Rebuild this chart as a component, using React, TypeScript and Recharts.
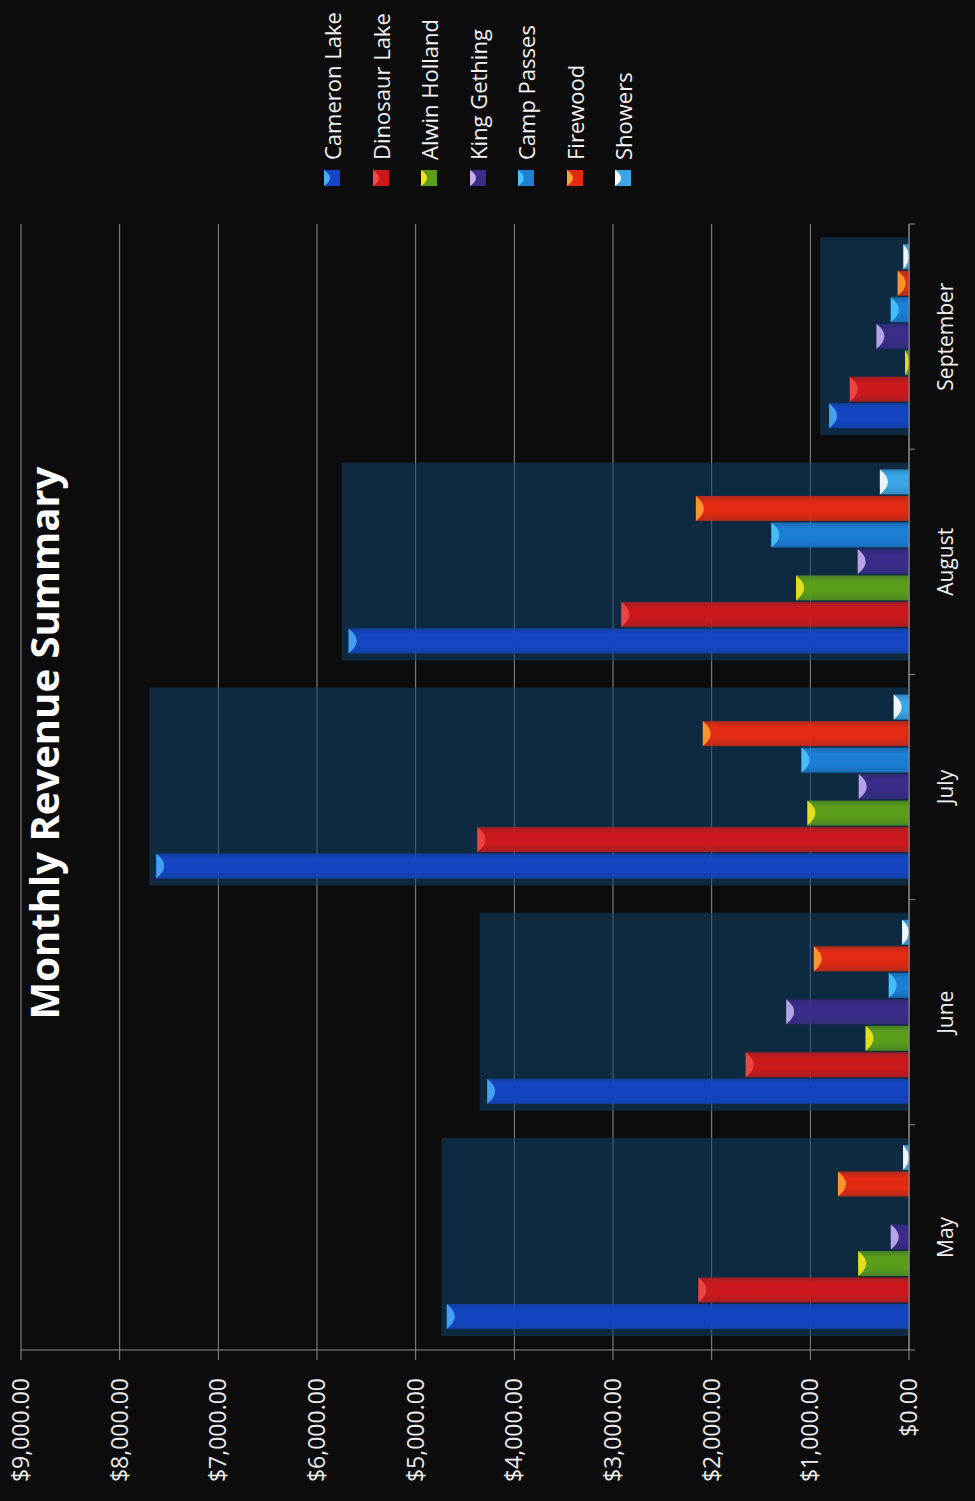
import React from "react";
import { BarChart, Bar, XAxis, YAxis, CartesianGrid, Legend } from "recharts";

// values (US$)
const months = ["May", "June", "July", "August", "September"];
const cameronLake = [4685, 4275, 7630, 5680, 810];
const dinosaurLake = [2135, 1655, 4375, 2915, 600];
const alwinHolland = [515, 440, 1030, 1145, 40];
const kingGething = [185, 1245, 510, 520, 330];
const campPasses = [0, 205, 1090, 1395, 185];
const firewood = [720, 965, 2090, 2160, 115];
const showers = [60, 70, 155, 295, 57];
// the dark panel drawn behind each month group
const monthBackdrop = [4740, 4350, 7700, 5750, 900];
const valueTicks = [0, 1000, 2000, 3000, 4000, 5000, 6000, 7000, 8000, 9000];

const series = [
  { key: "cameronLake", name: "Cameron Lake", color: "#1446c4", tip: "#4aaaf8", values: cameronLake },
  { key: "dinosaurLake", name: "Dinosaur Lake", color: "#cc1a1c", tip: "#f04a44", values: dinosaurLake },
  { key: "alwinHolland", name: "Alwin Holland", color: "#5a9e1c", tip: "#f2e418", values: alwinHolland },
  { key: "kingGething", name: "King Gething", color: "#3a2c88", tip: "#c4b0f0", values: kingGething },
  { key: "campPasses", name: "Camp Passes", color: "#1c7fd6", tip: "#4ac4ff", values: campPasses },
  { key: "firewood", name: "Firewood", color: "#e42a12", tip: "#ffa030", values: firewood },
  { key: "showers", name: "Showers", color: "#3aa6e8", tip: "#ffffff", values: showers },
];

const rows = months.map((month, i) => {
  const row: Record<string, string | number> = { month, backdrop: monthBackdrop[i] };
  series.forEach((s) => {
    row[s.key] = s.values[i];
  });
  return row;
});

const W = 1501;
const H = 975;
const FONT = "'Open Sans', sans-serif";
const GRID = "#8c8c8c";

const money = (v: number) =>
  "$" + v.toLocaleString("en-US", { minimumFractionDigits: 2, maximumFractionDigits: 2 });

function makeShape(gradId: string, tip: string) {
  return (props: any) => {
    const { x, y, width, height } = props;
    if (!height || height <= 0) return <g />;
    const cap = Math.min(8, height);
    return (
      <g>
        <rect x={x} y={y} width={width} height={height} fill={`url(#${gradId})`} />
        <path
          d={`M${x},${y} L${x + width},${y} Q${x + width / 2},${y + cap * 2} ${x},${y} Z`}
          fill={tip}
          opacity={0.9}
        />
      </g>
    );
  };
}

function MonthTick(props: any) {
  const { x, y, payload, index } = props;
  const half = payload?.offset ?? 0;
  return (
    <g>
      <line x1={x - half} y1={y} x2={x - half} y2={y + 6} stroke={GRID} />
      {index === months.length - 1 && (
        <line x1={x + half} y1={y} x2={x + half} y2={y + 6} stroke={GRID} />
      )}
      <text x={x} y={y + 44} textAnchor="middle" fill="#f0f0f0" fontSize={21} fontFamily={FONT}>
        {payload.value}
      </text>
    </g>
  );
}

function LegendList(props: any) {
  const shown = new Set((props.payload ?? []).map((p: any) => p.dataKey));
  // keep the series order, not the alphabetical one
  const items = series.filter((s) => shown.has(s.key));
  return (
    <div style={{ display: "flex", flexDirection: "column" }}>
      {items.map((s) => (
        <div key={s.key} style={{ display: "flex", alignItems: "center", height: 48.5 }}>
          <svg width={16} height={16}>
            <rect x={0} y={0} width={16} height={16} fill={s.color} />
            <path d="M0,0 L16,0 Q8,12 0,0 Z" fill={s.tip} />
          </svg>
          <span
            style={{
              marginLeft: 10,
              color: "#f2f2f2",
              fontSize: 22,
              fontFamily: FONT,
              whiteSpace: "nowrap",
              lineHeight: 1,
            }}
          >
            {s.name}
          </span>
        </div>
      ))}
    </div>
  );
}

export default function App() {
  return (
    <div
      style={{
        position: "fixed",
        left: 0,
        top: 0,
        width: H,
        height: W,
        background: "#0c0c0c",
        overflow: "hidden",
      }}
    >
      <div
        style={{
          position: "absolute",
          left: 0,
          top: 0,
          width: W,
          height: H,
          transformOrigin: "0 0",
          transform: `translate(0px, ${W}px) rotate(-90deg)`,
          fontFamily: FONT,
        }}
      >
        <BarChart
          width={W}
          height={H}
          data={rows}
          margin={{ top: 21, right: 224, bottom: 0, left: 0 }}
          barGap={1.5}
        >
          <defs>
            {series.map((s) => (
              <linearGradient key={s.key} id={`grad-${s.key}`} x1="0" y1="0" x2="1" y2="0">
                <stop offset="0%" stopColor={s.color} stopOpacity={0.8} />
                <stop offset="35%" stopColor={s.color} stopOpacity={1} />
                <stop offset="75%" stopColor={s.color} stopOpacity={1} />
                <stop offset="100%" stopColor={s.color} stopOpacity={0.75} />
              </linearGradient>
            ))}
          </defs>
          <CartesianGrid vertical={false} stroke={GRID} />
          <XAxis
            dataKey="month"
            height={66}
            interval={0}
            tickSize={0}
            tickMargin={0}
            tickLine={false}
            axisLine={{ stroke: GRID }}
            tick={<MonthTick />}
          />
          <XAxis dataKey="month" xAxisId="bg" hide />
          <YAxis
            width={151}
            domain={[0, 9000]}
            ticks={valueTicks}
            interval={0}
            tickFormatter={money}
            tickSize={10}
            tickMargin={18}
            tick={{ fill: "#ececec", fontSize: 23, fontFamily: FONT }}
            axisLine={{ stroke: GRID }}
            tickLine={{ stroke: GRID }}
          />
          <Legend
            layout="horizontal"
            align="center"
            verticalAlign="middle"
            content={<LegendList />}
            wrapperStyle={{ left: 1315, top: 308, width: 186, height: "auto" }}
          />
          <Bar
            xAxisId="bg"
            dataKey="backdrop"
            barSize={198}
            fill="#10446e"
            fillOpacity={0.55}
            legendType="none"
            isAnimationActive={false}
          />
          {series.map((s) => (
            <Bar
              key={s.key}
              dataKey={s.key}
              name={s.name}
              fill={s.color}
              barSize={25}
              shape={makeShape(`grad-${s.key}`, s.tip)}
              isAnimationActive={false}
            />
          ))}
        </BarChart>
        <div
          style={{
            position: "absolute",
            left: 758,
            top: 24,
            transform: "translateX(-50%)",
            whiteSpace: "nowrap",
            color: "#ffffff",
            fontSize: 40,
            fontWeight: 700,
            lineHeight: 1,
            fontFamily: FONT,
          }}
        >
          Monthly Revenue Summary
        </div>
      </div>
    </div>
  );
}
